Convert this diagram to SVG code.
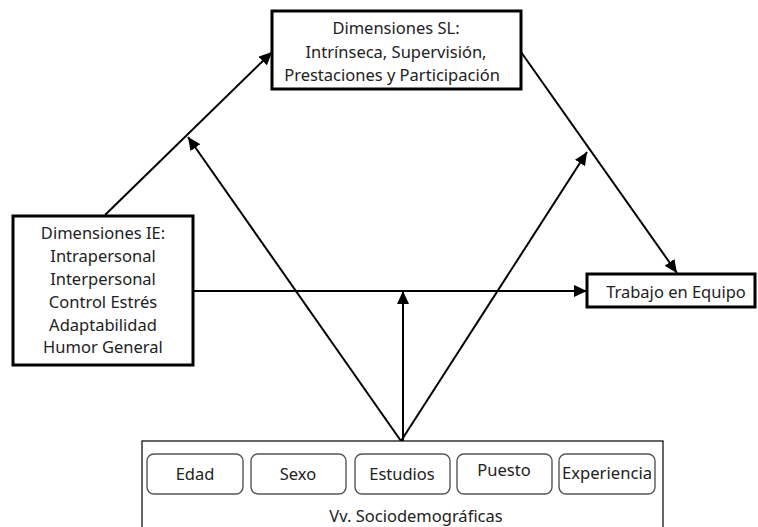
<svg xmlns="http://www.w3.org/2000/svg" width="758" height="527" viewBox="0 0 758 527">
  <defs>
    <marker id="arrow" markerUnits="userSpaceOnUse" markerWidth="14" markerHeight="12" viewBox="0 0 14 12" refX="13" refY="6" orient="auto">
      <path d="M0,0 L13,6 L0,12 Z" fill="#000"/>
    </marker>
    <style>
      .box { fill: #fff; stroke: #000; stroke-width: 3; }
      .item { fill: #fff; stroke: #555; stroke-width: 1.4; }
      .frame { fill: #fff; stroke: #000; stroke-width: 1.2; }
      .lbl { font-family: "Noto Sans", "Open Sans", sans-serif; font-size: 16.5px; fill: #222; text-anchor: middle; }
      .edge { stroke: #000; stroke-width: 2; fill: none; }
      .arr { marker-end: url(#arrow); }
    </style>
  </defs>
  <rect width="758" height="527" fill="#fff"/>

  <g id="connectors">
    <line class="edge arr" x1="105" y1="215" x2="272" y2="52"/>
    <line class="edge arr" x1="521" y1="52" x2="677" y2="273"/>
    <line class="edge arr" x1="193" y1="291" x2="587" y2="291"/>
    <line class="edge arr" x1="401" y1="441" x2="188" y2="137"/>
    <line class="edge arr" x1="401" y1="441" x2="587" y2="152"/>
    <line class="edge arr" x1="403" y1="441" x2="403" y2="291"/>
  </g>

  <g id="node-sl">
    <rect class="box" x="272" y="11" width="249" height="78"/>
    <text class="lbl" x="396" y="34">Dimensiones SL:</text>
    <text class="lbl" x="396" y="58">Intrínseca, Supervisión,</text>
    <text class="lbl" x="392" y="81">Prestaciones y Participación</text>
  </g>

  <g id="node-ie">
    <rect class="box" x="13" y="216" width="180" height="149"/>
    <text class="lbl" x="103" y="239">Dimensiones IE:</text>
    <text class="lbl" x="103" y="262">Intrapersonal</text>
    <text class="lbl" x="103" y="285">Interpersonal</text>
    <text class="lbl" x="103" y="308">Control Estrés</text>
    <text class="lbl" x="103" y="331">Adaptabilidad</text>
    <text class="lbl" x="103" y="353">Humor General</text>
  </g>

  <g id="node-trabajo">
    <rect class="box" x="587" y="274" width="168" height="33"/>
    <text class="lbl" x="676" y="298">Trabajo en Equipo</text>
  </g>

  <g id="node-socio">
    <rect class="frame" x="142" y="441" width="521" height="92"/>
    <rect class="item" x="147" y="454" width="96" height="40" rx="7"/>
    <text class="lbl" x="195" y="480">Edad</text>
    <rect class="item" x="251" y="454" width="95" height="40" rx="7"/>
    <text class="lbl" x="298" y="480">Sexo</text>
    <rect class="item" x="355" y="454" width="95" height="40" rx="7"/>
    <text class="lbl" x="402" y="480">Estudios</text>
    <rect class="item" x="457" y="454" width="95" height="40" rx="7"/>
    <text class="lbl" x="504" y="476">Puesto</text>
    <rect class="item" x="559" y="454" width="96" height="40" rx="7"/>
    <text class="lbl" x="607" y="479" textLength="90" lengthAdjust="spacingAndGlyphs">Experiencia</text>
    <text class="lbl" x="416" y="522">Vv. Sociodemográficas</text>
  </g>
</svg>
